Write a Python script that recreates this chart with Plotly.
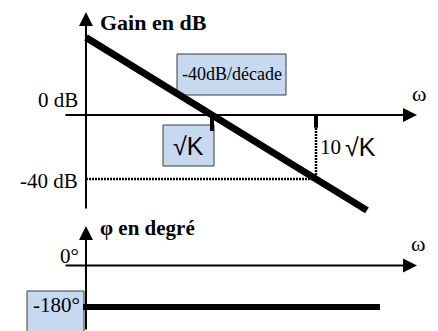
import numpy as np
import plotly.graph_objects as go

# Asymptotic Bode diagram of H(jω) = K / (jω)^2, frequencies expressed in units of √K
omega_gain = [0.0614, 1.0, 10.0, 30.9]
gain_db = [48.4, 0.0, -40.0, -59.6]

omega_phase = [0.0575, 41.2]
phase_deg = [-180.0, -180.0]

omega_marks = [1.0, 10.0]
gain_levels = [0.0, -40.0]
gain_level_labels = ["0 dB", "-40 dB"]
phase_levels = [0.0, -180.0]
phase_level_labels = ["0°", "-180°"]
slope_label = "-40dB/décade"

W, H = 438, 331
SERIF = "'Liberation Serif', 'Times New Roman', Times, serif"
SANS = "'Liberation Sans', Arial, sans-serif"

# frame geometry (pixels)
PX_REF, PX_DEC = 212.0, 104.0          # √K position, pixels per decade
GAIN_ZERO, PX_PER_DB = 115.0, 1.6
PHASE_ZERO, PX_PER_DEG = 265.5, 0.2306
SPLIT = 218.0                          # boundary between gain and phase panels


def lw(px):
    """log10(ω) at a horizontal pixel"""
    return (px - PX_REF) / PX_DEC


def g_at(py):
    return (GAIN_ZERO - py) / PX_PER_DB


def p_at(py):
    return (PHASE_ZERO - py) / PX_PER_DEG


def paper_x(px):
    return px / W


def paper_y(py):
    return 1 - py / H


fig = go.Figure()

# shaded label boxes (behind the curves)
boxes = [(177, 54, 286, 95), (163, 125, 214, 166), (27, 291, 84, 332)]
shapes = []
for x0, y0, x1, y1 in boxes:
    shapes.append(dict(type="rect", xref="paper", yref="paper",
                       x0=paper_x(x0), x1=paper_x(x1), y0=paper_y(y1), y1=paper_y(y0),
                       fillcolor="#c6d9f1", line=dict(color="#3a3a3a", width=1),
                       layer="below"))

axis_left = omega_gain[0]

# dotted construction lines for 10√K / -40 dB
fig.add_trace(go.Scatter(x=[axis_left, omega_marks[1], omega_marks[1]],
                         y=[gain_levels[1], gain_levels[1], -8.0],
                         mode="lines", line=dict(color="black", width=2.5, dash="2px,1px"),
                         xaxis="x", yaxis="y", hoverinfo="skip"))

# tick marks at √K and 10√K
for w, depth in zip(omega_marks, [-10.0, -8.0]):
    fig.add_trace(go.Scatter(x=[w, w], y=[gain_levels[0], depth], mode="lines",
                             line=dict(color="black", width=4),
                             xaxis="x", yaxis="y", hoverinfo="skip"))

# gain asymptote
fig.add_trace(go.Scatter(x=omega_gain, y=gain_db, mode="lines",
                         line=dict(color="black", width=7),
                         xaxis="x", yaxis="y", hoverinfo="skip"))

# phase
fig.add_trace(go.Scatter(x=omega_phase, y=phase_deg, mode="lines",
                         line=dict(color="black", width=6),
                         xaxis="x2", yaxis="y2", hoverinfo="skip"))

ann = []


def arrow(x, y, ax, ay, xr, yr):
    ann.append(dict(x=x, y=y, ax=ax, ay=ay, xref=xr, yref=yr, text="",
                    showarrow=True, arrowhead=2, arrowsize=1.4, arrowwidth=2,
                    arrowcolor="black"))


# axes with arrowheads
x_axis_left = np.log10(axis_left)
arrow(x_axis_left, g_at(12), 0, 198, "x", "y")
arrow(lw(417), gain_levels[0], -353, 0, "x", "y")
arrow(x_axis_left, p_at(226), 0, 112, "x2", "y2")
arrow(lw(417), phase_levels[0], -353, 0, "x2", "y2")


def text(x, y, s, xr, yr, size, family=SERIF, xanchor="center", yshift=0):
    ann.append(dict(x=x, y=y, xref=xr, yref=yr, text=s, showarrow=False,
                    font=dict(family=family, size=size, color="black"),
                    xanchor=xanchor, yanchor="middle", yshift=yshift))


text(lw(98), g_at(22), "<b>Gain en dB</b>", "x", "y", 22, xanchor="left")
text(lw(98), p_at(228), "<b>φ en degré</b>", "x2", "y2", 21, xanchor="left")
text(lw(419), g_at(93), "ω", "x", "y", 22)
text(lw(418), p_at(244), "ω", "x2", "y2", 22)

text(lw(80), gain_levels[0], gain_level_labels[0], "x", "y", 21, xanchor="right", yshift=15)
text(lw(80), gain_levels[1], gain_level_labels[1], "x", "y", 21, xanchor="right", yshift=-2)
text(lw(81), phase_levels[0], phase_level_labels[0], "x2", "y2", 21, xanchor="right", yshift=10)
text(lw(56), phase_levels[1], phase_level_labels[1], "x2", "y2", 21, yshift=2)

text(lw(232), g_at(74), slope_label, "x", "y", 18)
text(np.log10(omega_marks[0]) + lw(188) - lw(PX_REF), g_at(146), "√K", "x", "y", 25, family=SANS)
text(np.log10(omega_marks[1]) + lw(330) - lw(316), g_at(147), "10", "x", "y", 21)
text(np.log10(omega_marks[1]) + lw(360) - lw(316), g_at(147), "√K", "x", "y", 25, family=SANS)

split = paper_y(SPLIT)
x_range = [lw(0), lw(W)]

fig.update_layout(
    width=W, height=H, margin=dict(l=0, r=0, t=0, b=0),
    paper_bgcolor="white", plot_bgcolor="white", showlegend=False,
    xaxis=dict(type="log", range=x_range, visible=False, domain=[0, 1], anchor="y"),
    xaxis2=dict(type="log", range=x_range, visible=False, domain=[0, 1], anchor="y2", matches="x"),
    yaxis=dict(range=[g_at(SPLIT), g_at(0)], visible=False, domain=[split, 1], anchor="x"),
    yaxis2=dict(range=[p_at(H), p_at(SPLIT)], visible=False, domain=[0, split], anchor="x2"),
    shapes=shapes, annotations=ann,
)

fig.write_html("out.html")
